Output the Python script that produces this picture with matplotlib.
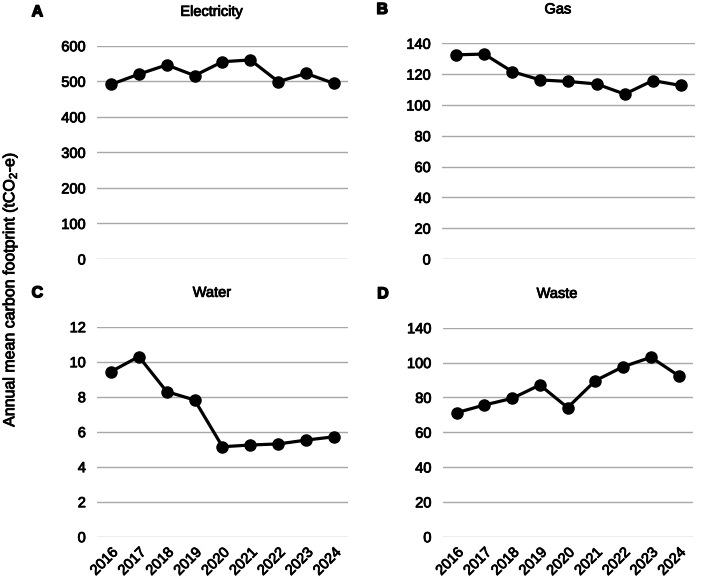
"""Annual mean carbon footprint by source, 2016-2024 (four panels)."""

import matplotlib

matplotlib.use("Agg")
import matplotlib.pyplot as plt
import matplotlib.patheffects as pe

plt.rcParams["font.family"] = ["Liberation Sans", "DejaVu Sans"]
plt.rcParams["mathtext.fontset"] = "custom"
plt.rcParams["mathtext.rm"] = "Liberation Sans"

years = ["2016", "2017", "2018", "2019", "2020", "2021", "2022", "2023", "2024"]

electricity = [491, 520, 546, 516, 555, 560, 499, 522, 494]
gas = [132.5, 133, 121.6, 116.2, 115.2, 113.6, 107, 115.8, 112.6]
water = [9.43, 10.29, 8.29, 7.81, 5.14, 5.24, 5.30, 5.52, 5.71]
waste = [71.2, 75.6, 79.4, 87.1, 74.1, 89.6, 97.6, 103, 92.4]

elec_ticks = [0, 100, 200, 300, 400, 500, 600]
gas_ticks = [0, 20, 40, 60, 80, 100, 120, 140]
water_ticks = [0, 2, 4, 6, 8, 10, 12]
waste_ticks = [0, 20, 40, 60, 80, 100, 120]
# the source chart labels its top waste gridline "140"
waste_tick_labels = ["0", "20", "40", "60", "80", "100", "140"]

panels = [
    ("A", "Electricity", electricity, elec_ticks, None, [0.1382, 0.5565, 0.3575, 0.3652], False),
    ("B", "Gas", gas, gas_ticks, None, [0.6296, 0.5565, 0.3604, 0.3694], False),
    ("C", "Water", water, water_ticks, None, [0.1382, 0.0810, 0.3575, 0.3596], True),
    ("D", "Waste", waste, waste_ticks, waste_tick_labels, [0.6306, 0.0810, 0.3560, 0.3579], True),
]

# slightly heavier text, the source was rendered in a thick Helvetica
heavy = [pe.withStroke(linewidth=0.6, foreground="black")]
heavier = [pe.withStroke(linewidth=1.0, foreground="black")]

fig = plt.figure(figsize=(7.02, 5.84), dpi=100)

for letter, title, values, ticks, tick_labels, rect, show_x in panels:
    ax = fig.add_axes(rect)
    x = range(len(years))
    ax.plot(x, values, color="black", lw=2.3, marker="o", ms=8, zorder=3, clip_on=False)
    ax.set_xlim(-0.5, len(years) - 0.5)
    ax.set_ylim(ticks[0], ticks[-1])
    ax.set_yticks(ticks)
    ax.set_yticklabels(tick_labels if tick_labels else [str(t) for t in ticks])
    ax.grid(axis="y", color="#a8a8a8", lw=1.0)
    ax.set_axisbelow(True)
    for s in ax.spines.values():
        s.set_visible(False)
    ax.tick_params(axis="both", length=0, labelsize=10.5, pad=8)
    ax.set_xticks(list(x))
    if show_x:
        ax.set_xticklabels(years, rotation=45, ha="right", va="top", rotation_mode="anchor")
        ax.tick_params(axis="x", pad=6)
    else:
        ax.set_xticklabels([])
    for lbl in ax.get_xticklabels() + ax.get_yticklabels():
        lbl.set_path_effects(heavy)

    x0 = rect[0]
    top = rect[1] + rect[3]
    fig.text(x0 - 0.085, top + 0.058, letter, fontsize=11.5, fontweight="bold", ha="center", va="center",
             path_effects=heavier)
    fig.text(x0 + rect[2] / 2 - 0.015, top + 0.058, title, fontsize=10.5, ha="center", va="center",
             path_effects=heavy)

fig.text(0.014, 0.505, r"Annual mean carbon footprint (tCO$_\mathregular{2}$-e)",
         rotation=90, fontsize=11.5, ha="center", va="center", path_effects=heavy)

fig.savefig("out.png", dpi=100)
